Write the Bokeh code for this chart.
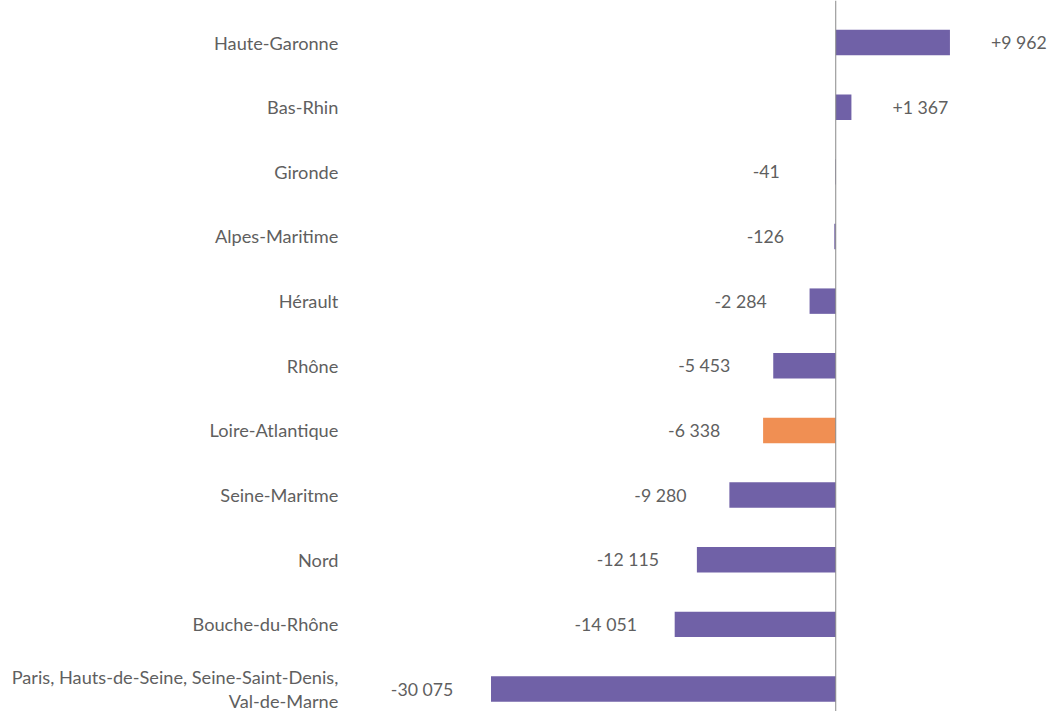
from bokeh.plotting import figure
from bokeh.models import Range1d, Span, ColumnDataSource
from bokeh.core.properties import value
from bokeh.embed import file_html
from bokeh.resources import INLINE

categories = ["Haute-Garonne", "Bas-Rhin", "Gironde", "Alpes-Maritime", "Hérault", "Rhône",
              "Loire-Atlantique", "Seine-Maritme", "Nord", "Bouche-du-Rhône",
              "Paris, Hauts-de-Seine, Seine-Saint-Denis,\nVal-de-Marne"]
values = [9962, 1367, -41, -126, -2284, -5453, -6338, -9280, -12115, -14051, -30075]
highlight = "Loire-Atlantique"

PURPLE = "#7061A7"
ORANGE = "#F08F53"
GREY = "#5f5f5f"

W, H = 1048, 711
sx, sy = W / 1064.0, H / 727.0
zero_px = 848 * sx
scale = 350 * sx / 30075.0  # px per unit
row0 = 43 * sy
step = 66.1 * sy

xs = -zero_px / scale
xe = (W - zero_px) / scale
ys = -row0 / step
ye = (H - row0) / step

idx = list(range(len(categories)))
labels = [f"{v:+,}".replace(",", " ") for v in values]
colors = [ORANGE if c == highlight else PURPLE for c in categories]
offsets = [70 * sx if v >= 0 else -70 * sx for v in values]

src = ColumnDataSource(dict(y=idx, v=values, cat=categories, lab=labels, col=colors,
                            zero=[0] * len(idx), off=offsets))

p = figure(width=W, height=H, output_backend="svg", toolbar_location=None,
           x_range=Range1d(xs, xe), y_range=Range1d(ye, ys),
           min_border=0, outline_line_color=None)
p.axis.visible = False
p.grid.visible = False

p.hbar(y="y", left="zero", right="v", height=26 / 66.1, fill_color="col", line_color=None, source=src)
p.add_layout(Span(location=0, dimension="height", line_color="#8a8a8a", line_width=1))

p.text(x="v", y="y", text="lab", x_offset="off", source=src, text_align="center",
       text_baseline="middle", text_font=value("Lato"), text_font_size="17.7px", text_color=GREY)
p.text(x="zero", y="y", text="cat", x_offset=-505 * sx, source=src, text_align="right",
       text_baseline="middle", text_font=value("Lato"), text_font_size="18.2px", text_color=GREY,
       text_line_height=1.05)

open("out.html", "w").write(file_html(p, INLINE))
